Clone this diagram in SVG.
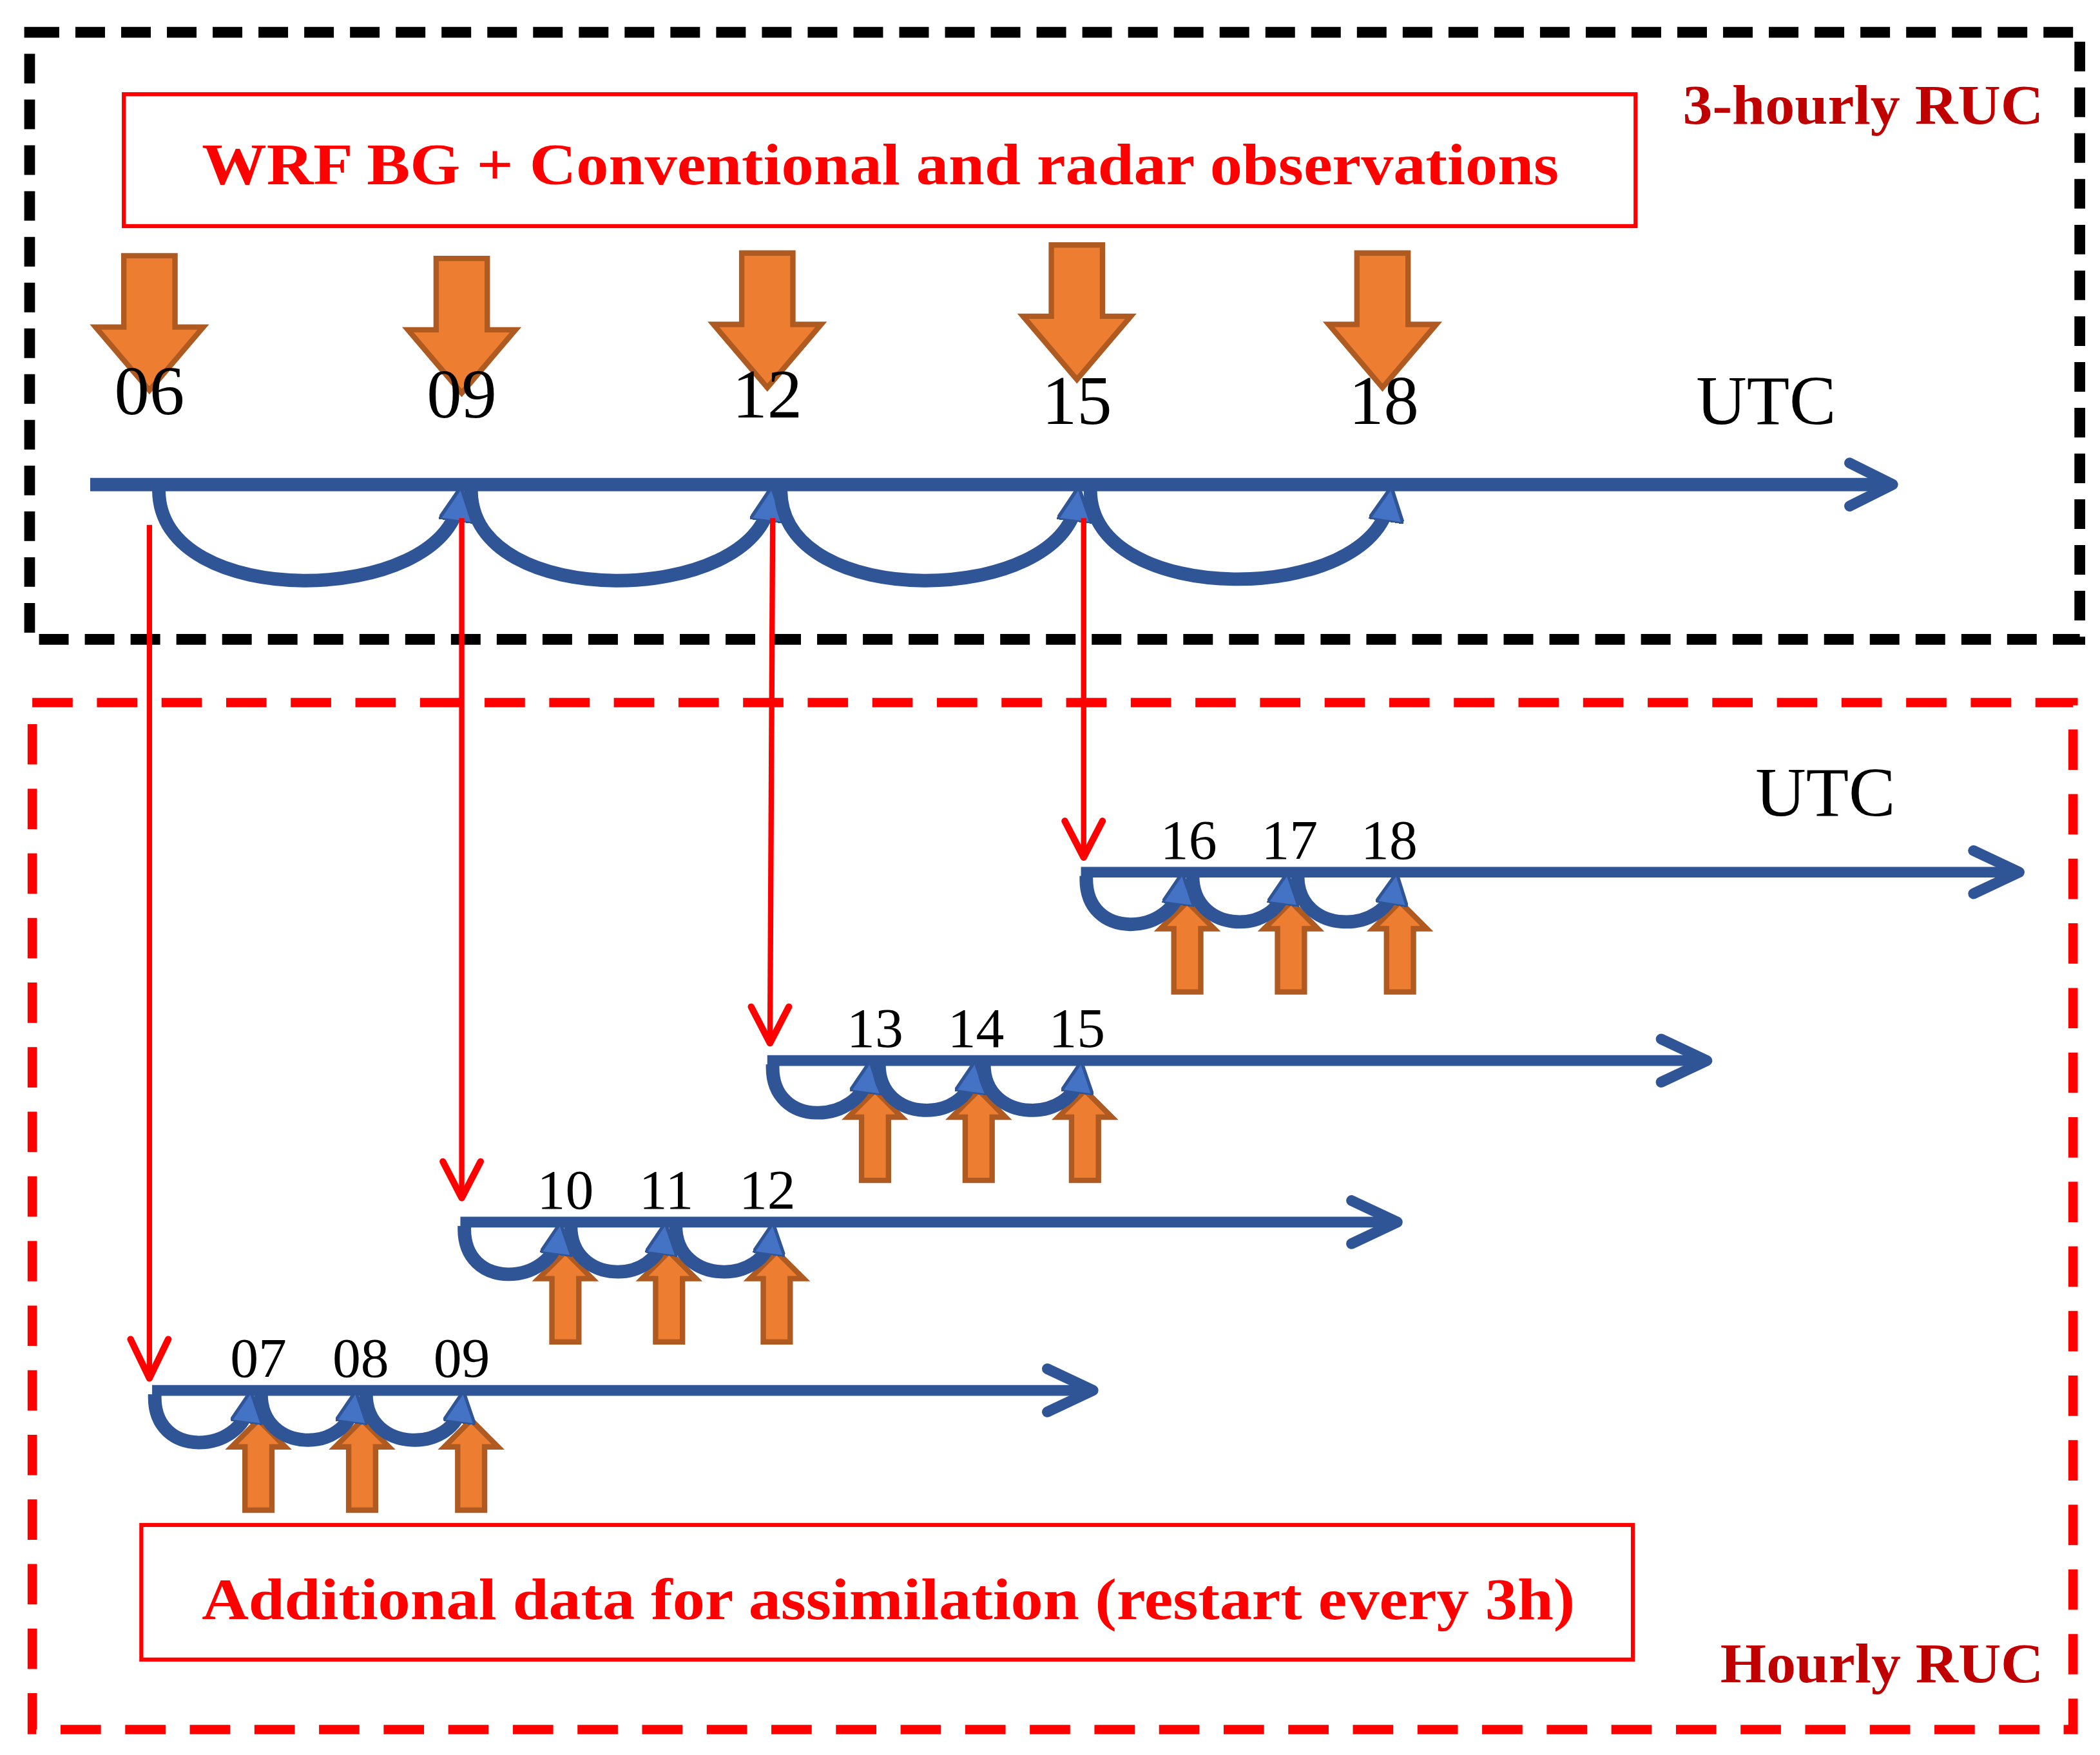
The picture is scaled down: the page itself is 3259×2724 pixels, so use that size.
<svg xmlns="http://www.w3.org/2000/svg" width="3259" height="2724" viewBox="0 0 3259 2724">
<style>
.t{font-family:"Liberation Serif","Times New Roman",serif;fill:#000}
.rb{font-family:"Liberation Serif","Times New Roman",serif;font-weight:bold;fill:#FF0000}
.dr{font-family:"Liberation Serif","Times New Roman",serif;font-weight:bold;fill:#C00000}
.ax{stroke:#2F5597;stroke-width:10;fill:none}
.axs{stroke:#2F5597;stroke-width:8;fill:none}
.head{stroke:#2F5597;stroke-width:8;fill:none;stroke-linecap:round;stroke-linejoin:round}
.loop{stroke:#2F5597;stroke-width:10;fill:none}
.red{stroke:#FF0000;stroke-width:4;fill:none}
.redh{stroke:#FF0000;stroke-width:5;fill:none;stroke-linecap:round;stroke-linejoin:round}
.or{fill:#ED7D31;stroke:#AE5A21;stroke-width:4}
</style>
<defs>
<marker id="bh" viewBox="0 0 10 10" refX="6" refY="5" markerWidth="2.6" markerHeight="2.6" orient="auto" markerUnits="strokeWidth">
<path d="M0,0 L10,5 L0,10 Z" fill="#4472C4" stroke="#2F5597" stroke-width="1"/>
</marker>
<marker id="bs" viewBox="0 0 10 10" refX="6" refY="5" markerWidth="2.4" markerHeight="2.4" orient="auto" markerUnits="strokeWidth">
<path d="M0,0 L10,5 L0,10 Z" fill="#4472C4" stroke="#2F5597" stroke-width="1"/>
</marker>
<path id="dA" d="M-19,-100 H19 V-47 H40 L0,0 L-40,-47 H-19 Z"/>
<path id="uA" d="M0,0 L20,20 H10 V67 H-10 V20 H-20 Z"/>
</defs>
<rect width="3259" height="2724" fill="#fff"/>
<g transform="scale(2.0891)">
<g id="frame-3h"><rect x="22" y="24" width="1523" height="451" fill="none" stroke="#000" stroke-width="8" stroke-dasharray="22 12"/></g>
<g id="frame-1h"><rect x="24" y="522" width="1516" height="763" fill="none" stroke="#FF0000" stroke-width="7" stroke-dasharray="30 18"/></g>
<g id="box-top"><rect x="92" y="70" width="1123" height="98" fill="none" stroke="#FF0000" stroke-width="3"/>
<text class="rb" x="654" y="137" font-size="44" text-anchor="middle" textLength="1008" lengthAdjust="spacingAndGlyphs">WRF BG + Conventional and radar observations</text></g>
<g id="label-3h"><text class="dr" x="1518" y="92" font-size="42" text-anchor="end" textLength="268" lengthAdjust="spacingAndGlyphs">3-hourly RUC</text></g>
<g id="box-bottom"><rect x="105" y="1133" width="1108" height="100" fill="none" stroke="#FF0000" stroke-width="3"/>
<text class="rb" x="660" y="1203" font-size="44" text-anchor="middle" textLength="1020" lengthAdjust="spacingAndGlyphs">Additional data for assimilation (restart every 3h)</text></g>
<g id="label-1h"><text class="dr" x="1518" y="1250" font-size="42" text-anchor="end" textLength="240" lengthAdjust="spacingAndGlyphs">Hourly RUC</text></g>
<g id="obs-3h">
<use href="#dA" class="or" transform="translate(111,290)"/>
<use href="#dA" class="or" transform="translate(343,292)"/>
<use href="#dA" class="or" transform="translate(570,288)"/>
<use href="#dA" class="or" transform="translate(800,282)"/>
<use href="#dA" class="or" transform="translate(1027,288)"/>
</g>
<g id="times-3h" font-size="52" text-anchor="middle">
<text class="t" x="111" y="308">06</text><text class="t" x="343" y="310">09</text><text class="t" x="570" y="310">12</text><text class="t" x="800" y="315">15</text><text class="t" x="1028" y="315">18</text><text class="t" x="1312" y="315">UTC</text>
</g>
<g id="times-1h" font-size="42" text-anchor="middle">
<text class="t" x="1356" y="606" font-size="52">UTC</text>
<text class="t" x="883" y="638">16</text><text class="t" x="958" y="638">17</text><text class="t" x="1032" y="638">18</text>
<text class="t" x="650" y="778">13</text><text class="t" x="725" y="778">14</text><text class="t" x="800" y="778">15</text>
<text class="t" x="420" y="898">10</text><text class="t" x="495" y="898">11</text><text class="t" x="570" y="898">12</text>
<text class="t" x="192" y="1023">07</text><text class="t" x="268" y="1023">08</text><text class="t" x="343" y="1023">09</text>
</g>
<g id="obs-1h">
<use href="#uA" class="or" transform="translate(882,670)"/><use href="#uA" class="or" transform="translate(959,670)"/><use href="#uA" class="or" transform="translate(1040,670)"/>
<use href="#uA" class="or" transform="translate(650,810)"/><use href="#uA" class="or" transform="translate(727,810)"/><use href="#uA" class="or" transform="translate(806,810)"/>
<use href="#uA" class="or" transform="translate(420,930)"/><use href="#uA" class="or" transform="translate(497,930)"/><use href="#uA" class="or" transform="translate(577,930)"/>
<use href="#uA" class="or" transform="translate(192,1055)"/><use href="#uA" class="or" transform="translate(269,1055)"/><use href="#uA" class="or" transform="translate(350,1055)"/>
</g>
<g id="connectors">
<line class="ax" x1="67" y1="360" x2="1404" y2="360"/><path class="head" d="M1374,344 L1406,360 L1374,376"/>
<path class="loop" marker-end="url(#bh)" d="M118,364 C118,455 330,450 341,372"/>
<path class="loop" marker-end="url(#bh)" d="M350,364 C350,455 562,450 572,372"/>
<path class="loop" marker-end="url(#bh)" d="M580,364 C580,455 790,450 800,372"/>
<path class="loop" marker-end="url(#bh)" d="M810,364 C810,452 1020,450 1032,372"/>
<line class="red" x1="111" y1="390" x2="111" y2="1022"/><path class="redh" d="M97,995 L111,1024 L125,995"/>
<line class="red" x1="343" y1="385" x2="343" y2="888"/><path class="redh" d="M329,863 L343,890 L357,863"/>
<line class="red" x1="574" y1="385" x2="572" y2="773"/><path class="redh" d="M558,748 L572,775 L586,748"/>
<line class="red" x1="805" y1="385" x2="805" y2="635"/><path class="redh" d="M791,610 L805,637 L819,610"/>
<line class="axs" x1="803" y1="648" x2="1498" y2="648"/><path class="head" d="M1466,632 L1500,648 L1466,664"/>
<line class="axs" x1="570" y1="788" x2="1266" y2="788"/><path class="head" d="M1234,772 L1268,788 L1234,804"/>
<line class="axs" x1="342" y1="908" x2="1036" y2="908"/><path class="head" d="M1004,892 L1038,908 L1004,924"/>
<line class="axs" x1="113" y1="1033" x2="810" y2="1033"/><path class="head" d="M778,1017 L812,1033 L778,1049"/>
<g>
<path class="loop" stroke-width="6" marker-end="url(#bs)" d="M807,651 C805,700 872,695 877,658"/>
<path class="loop" stroke-width="6" marker-end="url(#bs)" d="M886,651 C886,695 950,695 955,658"/>
<path class="loop" stroke-width="6" marker-end="url(#bs)" d="M964,651 C964,695 1030,695 1036,658"/>
<path class="loop" stroke-width="6" marker-end="url(#bs)" d="M574,791 C572,840 640,835 645,798"/>
<path class="loop" stroke-width="6" marker-end="url(#bs)" d="M653,791 C653,835 718,835 723,798"/>
<path class="loop" stroke-width="6" marker-end="url(#bs)" d="M731,791 C731,835 797,835 802,798"/>
<path class="loop" stroke-width="6" marker-end="url(#bs)" d="M345,911 C343,960 410,955 415,918"/>
<path class="loop" stroke-width="6" marker-end="url(#bs)" d="M424,911 C424,955 488,955 493,918"/>
<path class="loop" stroke-width="6" marker-end="url(#bs)" d="M502,911 C502,955 568,955 573,918"/>
<path class="loop" stroke-width="6" marker-end="url(#bs)" d="M115,1036 C113,1085 180,1080 185,1043"/>
<path class="loop" stroke-width="6" marker-end="url(#bs)" d="M194,1036 C194,1080 258,1080 263,1043"/>
<path class="loop" stroke-width="6" marker-end="url(#bs)" d="M272,1036 C272,1080 338,1080 343,1043"/>
</g>
</g>
</g>
</svg>
